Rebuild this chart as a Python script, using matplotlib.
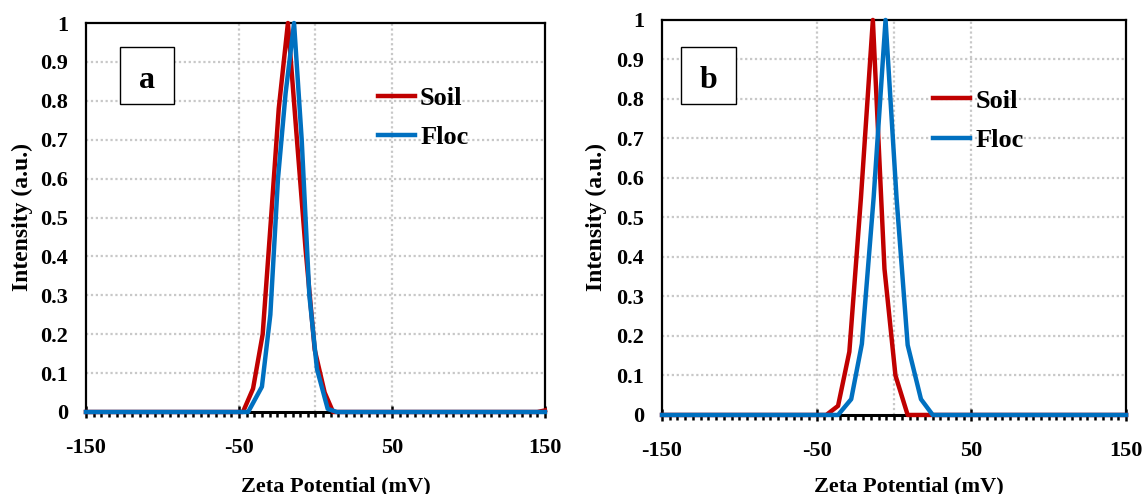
import matplotlib
matplotlib.use('Agg')
import matplotlib.pyplot as plt
from matplotlib.patches import Rectangle
from matplotlib.ticker import MultipleLocator, FixedLocator, FuncFormatter

plt.rcParams['font.family'] = ['Liberation Serif', 'DejaVu Serif']
plt.rcParams['font.weight'] = 'bold'
plt.rcParams['axes.unicode_minus'] = False

# panel a
a_soil_x = [-150, -47.4, -40.8, -34.5, -29, -24, -18, -12.5, -6.5, -0.5, 6, 11.5, 145, 150]
a_soil_y = [0, 0, 0.06, 0.2, 0.5, 0.78, 1.0, 0.72, 0.42, 0.16, 0.05, 0, 0, 0.004]
a_floc_x = [-150, -44, -35, -29.5, -24.5, -19.5, -14, -9, -4, 1, 8, 14, 150]
a_floc_y = [0, 0, 0.065, 0.25, 0.6, 0.82, 1.0, 0.7, 0.3, 0.11, 0.008, 0, 0]

# panel b
b_soil_x = [-150, -43.8, -36.2, -28.9, -21.4, -13.7, -6.2, 0.9, 8.8, 150]
b_soil_y = [0, 0, 0.023, 0.16, 0.55, 1.0, 0.37, 0.10, 0, 0]
b_floc_x = [-150, -36.2, -27.7, -20.8, -13.2, -5.5, 1.6, 8.8, 17.4, 25, 150]
b_floc_y = [0, 0, 0.04, 0.18, 0.55, 1.0, 0.55, 0.177, 0.04, 0, 0]

x_ticks = [-150, -50, 50, 150]
grid_x = [-50, 0, 50]

fig = plt.figure(figsize=(11.43, 4.94), dpi=100)
ax_a = fig.add_axes([0.0752, 0.166, 0.4016, 0.7874])
ax_b = fig.add_axes([0.5792, 0.160, 0.4060, 0.7996])

panels = [
    (ax_a, a_soil_x, a_soil_y, a_floc_x, a_floc_y, 'a',
     (0.074, 0.792, 0.118, 0.146), 0.833, (0.636, 0.837), 336),
    (ax_b, b_soil_x, b_soil_y, b_floc_x, b_floc_y, 'b',
     (0.041, 0.787, 0.118, 0.145), 0.828, (0.584, 0.825), 909),
]

for ax, sx, sy, fx, fy, letter, box, base_y, leg_pos, xlab_px in panels:
    ax.set_xlim(-150, 150)
    ax.set_ylim(0, 1)
    for g in grid_x:
        ax.axvline(g, color='#C8C8C8', lw=1.6, ls=(0, (1, 1.2)), zorder=1)
    for g in [0.1 * i for i in range(1, 10)]:
        ax.axhline(g, color='#C8C8C8', lw=1.6, ls=(0, (1, 1.2)), zorder=1)

    ax.plot(sx, sy, color='#C00000', lw=3.2, label='Soil', clip_on=False, zorder=5)
    ax.plot(fx, fy, color='#0070C0', lw=3.2, label='Floc', clip_on=False, zorder=6)

    for s in ['top', 'left', 'right']:
        ax.spines[s].set_linewidth(1.6)
    ax.spines['bottom'].set_linewidth(2.2)

    ax.xaxis.set_major_locator(FixedLocator(x_ticks))
    ax.xaxis.set_minor_locator(MultipleLocator(5))
    ax.yaxis.set_major_locator(MultipleLocator(0.1))
    ax.yaxis.set_major_formatter(FuncFormatter(lambda v, p: '%g' % round(v, 1)))
    ax.tick_params(axis='x', which='major', direction='inout', length=9, width=1.8,
                   pad=14.5, labelsize=16)
    ax.tick_params(axis='x', which='minor', direction='out', length=3.5, width=1.8)
    ax.tick_params(axis='y', length=0, pad=13, labelsize=16)
    for t in ax.get_xticklabels() + ax.get_yticklabels():
        t.set_fontweight('bold')

    ax.add_patch(Rectangle(box[:2], box[2], box[3], transform=ax.transAxes,
                           facecolor='white', edgecolor='black', lw=1.0, zorder=7))
    ax.text(box[0] + box[2] / 2, base_y, letter, transform=ax.transAxes,
            ha='center', va='baseline', fontsize=23, fontweight='bold', zorder=8)

    leg = ax.legend(loc='upper left', bbox_to_anchor=leg_pos, frameon=False,
                    fontsize=19, handlelength=1.4, handletextpad=0.2,
                    labelspacing=0.6, borderpad=0, borderaxespad=0)
    for t in leg.get_texts():
        t.set_fontweight('bold')

    fig.text(xlab_px / 1143, 0.016, 'Zeta Potential (mV)', ha='center', va='center',
             fontsize=16, fontweight='bold')

fig.text(22 / 1143, 0.56, 'Intensity (a.u.)', rotation=90, ha='center', va='center',
         fontsize=17, fontweight='bold')
fig.text(596 / 1143, 0.56, 'Intensity (a.u.)', rotation=90, ha='center', va='center',
         fontsize=17, fontweight='bold')

fig.savefig('out.png', dpi=100)
